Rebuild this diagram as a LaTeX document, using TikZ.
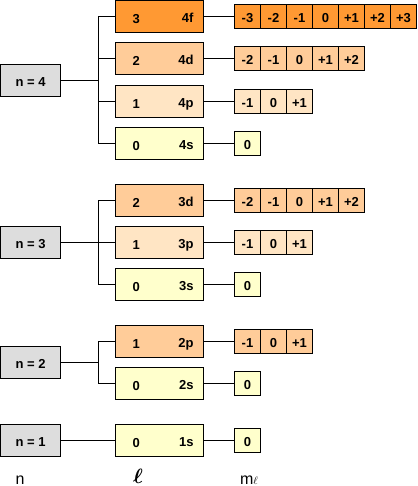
\documentclass[tikz,border=0pt]{standalone}
\usepackage{amsmath}
\usepackage{fontspec}
\setmainfont{Liberation Sans}
\usetikzlibrary{positioning}
\definecolor{fshell}{HTML}{FF9933}
\definecolor{dshell}{HTML}{FFCC99}
\definecolor{pshell}{HTML}{FFE5C4}
\definecolor{sshell}{HTML}{FFFFCC}
\definecolor{nshell}{HTML}{DDDDDD}
\newcommand\lpair[2]{\hbox to 68pt{\hspace*{7pt}\raisebox{-1pt}{#1}\hfill #2}}

\begin{document}
\begin{tikzpicture}[x=1pt, y=-1pt, line width=1pt,
  box/.style={draw, font=\bfseries\fontsize{13}{15}\selectfont, inner sep=0pt,
    text height=11.3pt, text depth=0pt},
  nbox/.style={box, fill=nshell, minimum width=60pt, minimum height=32pt},
  lbox/.style={box, minimum width=88pt, minimum height=32pt},
  mcell/.style={box, minimum width=26pt, minimum height=24pt},
  axislabel/.style={font=\fontsize{16}{18}\selectfont, anchor=base, inner sep=0pt}]
\useasboundingbox (0,0) rectangle (417,486);

% n = 4
\node[nbox] (n4) at (30.5,80.5) {n = 4};
\node[lbox, fill=fshell] (l4f) at (159.5,16.5)  {\lpair{3}{4f}};
\node[lbox, fill=dshell] (l4d) at (159.5,58.5)  {\lpair{2}{4d}};
\node[lbox, fill=pshell] (l4p) at (159.5,101.5) {\lpair{1}{4p}};
\node[lbox, fill=sshell] (l4s) at (159.5,143.5) {\lpair{0}{4s}};
\foreach \v [count=\i] in {-3,-2,-1,0,+1,+2,+3}
  \node[mcell, fill=fshell] (m4f\i) at (221.5+26*\i,16.5) {\v};
\foreach \v [count=\i] in {-2,-1,0,+1,+2}
  \node[mcell, fill=dshell] (m4d\i) at (221.5+26*\i,58.5) {\v};
\foreach \v [count=\i] in {-1,0,+1}
  \node[mcell, fill=pshell] (m4p\i) at (221.5+26*\i,101.5) {\v};
\node[mcell, fill=sshell] (m4s1) at (247.5,143.5) {0};
\coordinate (b4) at (98.5,80.5);
\draw (n4.east) -- (b4);
\foreach \s in {4f,4d,4p,4s} {
  \draw (b4) |- (l\s.west);
  \draw (l\s.east) -- (m\s1.west);
}

% n = 3
\node[nbox] (n3) at (30.5,242.5) {n = 3};
\node[lbox, fill=dshell] (l3d) at (159.5,200.5) {\lpair{2}{3d}};
\node[lbox, fill=pshell] (l3p) at (159.5,242.5) {\lpair{1}{3p}};
\node[lbox, fill=sshell] (l3s) at (159.5,284.5) {\lpair{0}{3s}};
\foreach \v [count=\i] in {-2,-1,0,+1,+2}
  \node[mcell, fill=dshell] (m3d\i) at (221.5+26*\i,200.5) {\v};
\foreach \v [count=\i] in {-1,0,+1}
  \node[mcell, fill=pshell] (m3p\i) at (221.5+26*\i,242.5) {\v};
\node[mcell, fill=sshell] (m3s1) at (247.5,284.5) {0};
\coordinate (b3) at (98.5,242.5);
\draw (n3.east) -- (b3);
\foreach \s in {3d,3p,3s} {
  \draw (b3) |- (l\s.west);
  \draw (l\s.east) -- (m\s1.west);
}

% n = 2
\node[nbox] (n2) at (30.5,362.5) {n = 2};
\node[lbox, fill=dshell] (l2p) at (159.5,341.5) {\lpair{1}{2p}};
\node[lbox, fill=sshell] (l2s) at (159.5,383.5) {\lpair{0}{2s}};
\foreach \v [count=\i] in {-1,0,+1}
  \node[mcell, fill=dshell] (m2p\i) at (221.5+26*\i,341.5) {\v};
\node[mcell, fill=sshell] (m2s1) at (247.5,383.5) {0};
\coordinate (b2) at (98.5,362.5);
\draw (n2.east) -- (b2);
\foreach \s in {2p,2s} {
  \draw (b2) |- (l\s.west);
  \draw (l\s.east) -- (m\s1.west);
}

% n = 1
\node[nbox] (n1) at (30.5,440.5) {n = 1};
\node[lbox, fill=sshell] (l1s) at (159.5,440.5) {\lpair{0}{1s}};
\node[mcell, fill=sshell] (m1s1) at (247.5,440.5) {0};
\draw (n1.east) -- (l1s.west);
\draw (l1s.east) -- (m1s1.west);

% column labels
\node[axislabel] (nlab) at (20,484) {n};
\node[axislabel, font=\fontsize{21}{22}\selectfont] (llab) at (138,483) {$\boldsymbol{\ell}$};
\node[axislabel] (mlab) at (249,484) {m\raisebox{-0.5pt}{\fontsize{11}{12}\selectfont$\ell$}};
\end{tikzpicture}
\end{document}
